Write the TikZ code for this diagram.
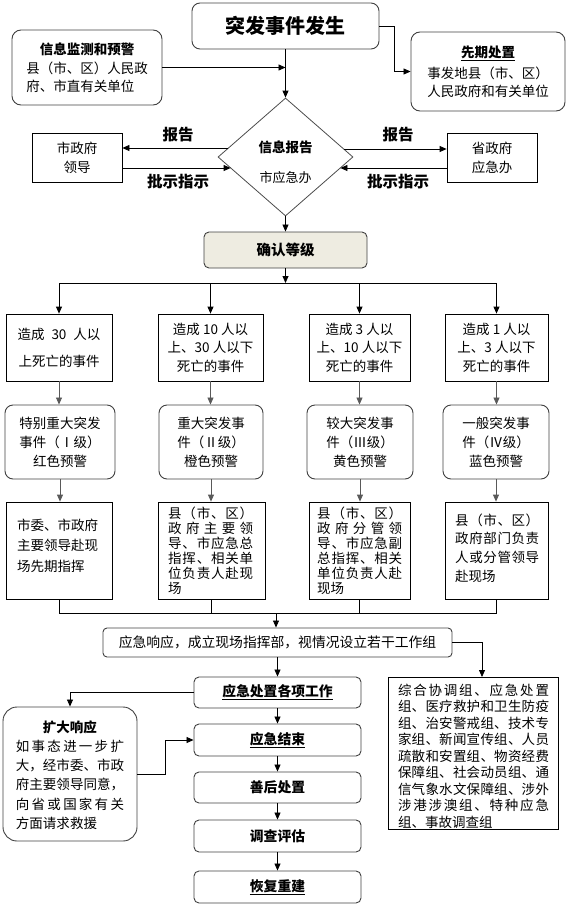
\documentclass[tikz,border=0pt]{standalone}
\usepackage{fontspec}
\setmainfont{Noto Sans CJK SC}
\usetikzlibrary{arrows.meta,shapes.geometric}
\definecolor{beige}{HTML}{EEECE1}
\ExplSyntaxOn
\NewDocumentCommand \spread { m m }
  { \hbox_to_wd:nn {#1} { \tl_map_inline:nn {#2} { ##1 \hfil } \unskip } }
\ExplSyntaxOff
\begin{document}
\begin{tikzpicture}[x=1pt,y=-1pt,
  every node/.style={font=\fontsize{13.5}{18}\selectfont, inner sep=0pt},
  rbox/.style={draw=black!75, rounded corners=8pt, line width=0.9pt, align=center},
  sbox/.style={draw=black, line width=0.8pt, align=center},
  lbl/.style={font=\bfseries\fontsize{15.5}{18}\selectfont},
  line/.style={draw=black, line width=0.8pt},
  conn/.style={line, -{Triangle[length=7pt,width=6pt]}},
  gconn/.style={conn, draw=black!65},
  fs/.style={font=\fontsize{13.5}{#1}\selectfont},
  stepbox/.style={rbox, rounded corners=5pt, minimum width=167pt, minimum height=31pt, font=\bfseries\fontsize{13.8}{18}\selectfont}
]
\useasboundingbox (0,0) rectangle (568,907);

% ---------- top part ----------
\node[rbox, minimum width=187pt, minimum height=46pt, font=\bfseries\fontsize{20}{24}\selectfont] (top) at (285.5,26) {突发事件发生};

\node[rbox, rounded corners=9pt, minimum width=150pt, minimum height=75pt, align=left, fs=17.5] (mon) at (87,67.5)
  {\hbox to 121.5pt{\hfil\bfseries 信息监测和预警\hfil}\\[2pt] 县（市、区）人民政\\ 府、市直有关单位};

\node[rbox, rounded corners=9pt, minimum width=154pt, minimum height=79pt, fs=18] (pre) at (488,71.5)
  {\underline{\bfseries 先期处置}\\[3pt] 事发地县（市、区）\\ 人民政府和有关单位};

\node[draw=black!70, line width=0.8pt, diamond, minimum width=135pt, minimum height=118pt] (diam) at (285.5,157) {};
\node[font=\bfseries\fontsize{13.5}{16}\selectfont] (diamt) at (285.5,147) {信息报告};
\node[font=\fontsize{13}{16}\selectfont] (diamb) at (285.5,178) {市应急办};

\node[sbox, minimum width=90pt, minimum height=49pt, fs=19] (cityl) at (77,157.5) {市政府\\领导};
\node[sbox, minimum width=90pt, minimum height=49pt, fs=19] (provr) at (492,157.5) {省政府\\应急办};

\node[lbl] (rep1) at (178,135) {报告};
\node[lbl] (ins1) at (178,182) {批示指示};
\node[lbl] (rep2) at (398,135) {报告};
\node[lbl] (ins2) at (398,182) {批示指示};

\node[rbox, rounded corners=5pt, fill=beige, minimum width=163pt, minimum height=36pt, font=\bfseries\fontsize{14.5}{18}\selectfont] (conf) at (285.5,250) {确认等级};

% ---------- four columns ----------
\node[sbox, minimum width=106pt, minimum height=67pt, fs=27] (r11) at (59,347.5) {\hbox to 83pt{造成\hfil 30\hfil 人以}\\上死亡的事件};
\node[sbox, minimum width=105pt, minimum height=67pt, fs=18.5] (r21) at (210.5,347.5) {造成 10 人以\\上、30 人以下\\死亡的事件};
\node[sbox, minimum width=101pt, minimum height=67pt, fs=18.5] (r31) at (359.5,347.5) {造成 3 人以\\上、10 人以下\\死亡的事件};
\node[sbox, minimum width=103pt, minimum height=67pt, fs=18.5] (r41) at (496.5,347.5) {造成 1 人以\\上、3 人以下\\死亡的事件};

\node[rbox, minimum width=110pt, minimum height=74pt, fs=19] (r12) at (60,442) {特别重大突发\\事件（Ⅰ级）\\红色预警};
\node[rbox, minimum width=104pt, minimum height=74pt, fs=19] (r22) at (211,442) {重大突发事\\件（Ⅱ级）\\橙色预警};
\node[rbox, minimum width=106pt, minimum height=74pt, fs=19] (r32) at (360,442) {较大突发事\\件（Ⅲ级）\\黄色预警};
\node[rbox, minimum width=106pt, minimum height=74pt, fs=19] (r42) at (496,442) {一般突发事\\件（Ⅳ级）\\蓝色预警};

\node[sbox, minimum width=106pt, minimum height=97pt] (r13) at (59,550.5) {};
\node[sbox, minimum width=107pt, minimum height=97pt] (r23) at (211.5,550.5) {};
\node[sbox, minimum width=101pt, minimum height=97pt] (r33) at (359.5,550.5) {};
\node[sbox, minimum width=103pt, minimum height=97pt] (r43) at (496.5,550.5) {};

\node[anchor=west, align=left, fs=20.5] (t13) at (17,545.5) {市委、市政府\\主要领导赴现\\场先期指挥};
\node[anchor=west, align=left, fs=15] (t23) at (168,550.5)
  {\spread{85pt}{县（市、区）}\\ \spread{85pt}{政府主要领}\\ \spread{85pt}{导、市应急总}\\ \spread{85pt}{指挥、相关单}\\ \spread{85pt}{位负责人赴现}\\ 场};
\node[anchor=west, align=left, fs=15] (t33) at (317,550.5)
  {\spread{85pt}{县（市、区）}\\ \spread{85pt}{政府分管领}\\ \spread{85pt}{导、市应急副}\\ \spread{85pt}{总指挥、相关}\\ \spread{85pt}{单位负责人赴}\\ 现场};
\node[anchor=west, align=left, fs=18.7] (t43) at (455,548)
  {\spread{84pt}{县（市、区）}\\ \spread{84pt}{政府部门负责}\\ \spread{84pt}{人或分管领导}\\ 赴现场};

% ---------- bottom part ----------
\node[rbox, rounded corners=4pt, minimum width=349pt, minimum height=29pt, font=\fontsize{13.8}{18}\selectfont] (resp) at (277.5,642.5) {应急响应，成立现场指挥部，视情况设立若干工作组};

\node[stepbox] (s1) at (277.5,692.5) {\underline{应急处置各项工作}};
\node[stepbox, minimum height=32pt] (s2) at (277.5,740) {\underline{应急结束}};
\node[stepbox] (s3) at (277.5,787.5) {善后处置};
\node[stepbox, minimum height=32pt] (s4) at (277.5,836) {调查评估};
\node[stepbox, minimum height=32pt] (s5) at (277.5,887) {\underline{恢复重建}};

\node[rbox, rounded corners=14pt, minimum width=134pt, minimum height=134pt] (expand) at (70,774) {};
\node[align=left, fs=19.2] (expandt) at (70,775)
  {\hbox to 108pt{\hfil\bfseries 扩大响应\hfil}\\ \spread{108pt}{如事态进一步扩}\\ \spread{108pt}{大，经市委、市政}\\ \spread{108pt}{府主要领导同意，}\\ \spread{108pt}{向省或国家有关}\\ 方面请求救援};

\node[sbox, minimum width=170pt, minimum height=152pt] (grp) at (473,753) {};
\node[align=left, fs=16.5] (grpt) at (473.5,756)
  {\spread{151pt}{综合协调组、应急处置}\\ \spread{151pt}{组、医疗救护和卫生防疫}\\ \spread{151pt}{组、治安警戒组、技术专}\\ \spread{151pt}{家组、新闻宣传组、人员}\\ \spread{151pt}{疏散和安置组、物资经费}\\ \spread{151pt}{保障组、社会动员组、通}\\ \spread{151pt}{信气象水文保障组、涉外}\\ \spread{151pt}{涉港涉澳组、特种应急}\\ 组、事故调查组};

% ---------- connectors ----------
\draw[conn] (top.east) -- ++(15,0) |- (pre.west);
\draw[conn] (top.south) -- (diam.north);
\draw[conn] (mon.east) -- (mon.east -| top.south);
\draw[conn] (diam.south) -- (conf.north);

\coordinate (dl1) at (228.3,148);
\coordinate (dl2) at (230.6,168);
\coordinate (dr1) at (343.8,149);
\coordinate (dr2) at (340.4,168);
\draw[conn] (dl1) -- (dl1 -| cityl.east);
\draw[conn] (cityl.east |- dl2) -- (dl2);
\draw[conn] (dr1) -- (dr1 -| provr.west);
\draw[conn] (provr.west |- dr2) -- (dr2);

\coordinate (split) at (285.5,283);
\draw[conn] (conf.south) -- (split);
\draw[line] (r11.north |- split) -- (r41.north |- split);
\foreach \n in {r11,r21,r31,r41} \draw[conn] (\n.north |- split) -- (\n.north);

\foreach \c in {1,2,3,4} {
  \draw[gconn] (r\c1.south) -- (r\c1.south |- r\c2.north);
  \draw[gconn] (r\c2.south) -- (r\c2.south |- r\c3.north);
}

\coordinate (merge) at (276,613);
\foreach \c in {1,2,3,4} \draw[line] (r\c3.south) -- (r\c3.south |- merge);
\draw[line] (r13.south |- merge) -- (r43.south |- merge);
\draw[conn] (merge) -- (merge |- resp.north);

\coordinate (gin) at (482,677);
\draw[conn] (resp.east) -| (gin);
\draw[conn] (resp.south) -- (s1.north);
\draw[conn] (s1.south) -- (s2.north);
\draw[conn] (s2.south) -- (s3.north);
\draw[conn] (s3.south) -- (s4.north);
\draw[conn] (s4.south) -- (s5.north);
\draw[conn] (s1.west) -| (expand.north);
\draw[conn] (expand.east) -- ++(28,0) |- (s2.west);
\end{tikzpicture}
\end{document}
